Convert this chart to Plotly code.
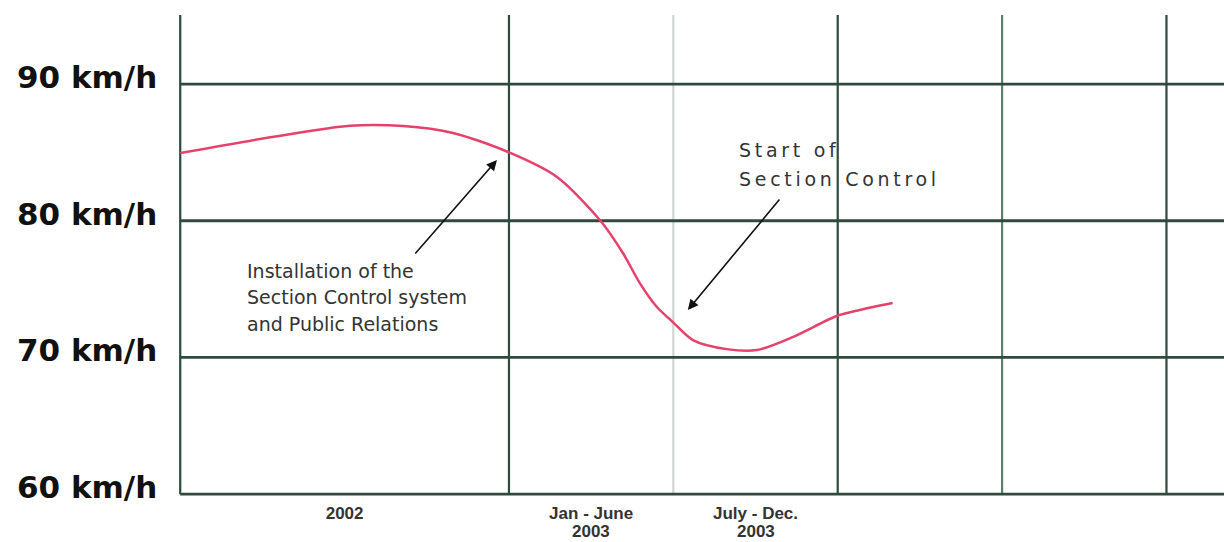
import plotly.graph_objects as go

# Average speed through the controlled section, one point per sampled position
# along the time axis (0 = start of 2002, each unit = half a year)
period_pos = [0.0, 0.547, 1.033, 1.356, 1.660, 1.994, 2.292, 2.553, 2.693,
              2.796, 2.900, 2.997, 3.119, 3.325, 3.508, 3.726, 3.994, 4.134, 4.334]
speed_kmh = [84.95, 86.1, 86.95, 86.93, 86.42, 85.03, 83.2, 80.05, 77.64,
             75.44, 73.69, 72.59, 71.27, 70.61, 70.54, 71.49, 73.03, 73.47, 73.98]

# Period labels on the time axis (first row as tick labels, year row below)
period_tick_pos = [1, 2.5, 3.5]
period_tick_text = ["2002", "Jan - June", "July - Dec."]
period_year_text = ["", "2003", "2003"]

# Speed levels on the vertical axis
speed_levels = [60, 70, 80, 90]
speed_labels = ["60 km/h", "70 km/h", "80 km/h", "90 km/h"]

# Vertical dividers: (position, colour)
dividers = [(0, "#2f4a3d"), (2, "#2f4a3d"), (3, "#cfd5d1"),
            (4, "#2f4a3d"), (5, "#5b7f6c"), (6, "#2f4a3d")]

# Callout texts, one entry per line
install_lines = ["Installation of the", "Section Control system", "and Public Relations"]
start_lines = ["Start of", "Section Control"]

X_MAX = 6.35
Y_MIN, Y_MAX = 59.5, 95.05
GRID = "#2f4a3d"
TICK_FONT = dict(family="Liberation Sans", size=17, color="#333333", weight="bold")

fig = go.Figure()

fig.add_trace(go.Scatter(
    x=period_pos, y=speed_kmh, mode="lines",
    line=dict(color="#e6416b", width=2.5, shape="spline", smoothing=0.8),
    hoverinfo="skip", showlegend=False,
))

shapes = []
for pos, col in dividers:
    shapes.append(dict(type="line", xref="x", yref="y", x0=pos, x1=pos,
                       y0=60, y1=Y_MAX, layer="below",
                       line=dict(color=col, width=2.2)))
for lvl in speed_levels:
    shapes.append(dict(type="line", xref="x", yref="y", x0=0, x1=X_MAX,
                       y0=lvl, y1=lvl, layer="below",
                       line=dict(color=GRID, width=2.8)))

annotations = []
for lvl, lab in zip(speed_levels, speed_labels):
    annotations.append(dict(
        x=0, y=lvl, xref="x", yref="y", text=lab, showarrow=False,
        xanchor="right", yanchor="middle", xshift=-21, yshift=7,
        font=dict(family="DejaVu Sans", size=31, color="#111111", weight="bold"),
    ))

# Year row under the period labels
for pos, yr in zip(period_tick_pos, period_year_text):
    if yr:
        annotations.append(dict(
            x=pos, y=0, xref="x", yref="paper", text=yr, showarrow=False,
            xanchor="center", yanchor="middle", yshift=-30, font=TICK_FONT,
        ))

# Arrows pointing to events on the curve
annotations.append(dict(
    x=1.927, y=84.44, ax=1.422, ay=77.49, xref="x", yref="y",
    axref="x", ayref="y", text="", showarrow=True,
    arrowhead=2, arrowsize=1.3, arrowwidth=1.6, arrowcolor="#111111",
))
annotations.append(dict(
    x=3.088, y=73.47, ax=3.653, ay=81.66, xref="x", yref="y",
    axref="x", ayref="y", text="", showarrow=True,
    arrowhead=2, arrowsize=1.3, arrowwidth=1.6, arrowcolor="#111111",
))

# Installation callout (line pitch about 2 km/h)
for i, line in enumerate(install_lines):
    annotations.append(dict(
        x=0.395, y=76.35 - 1.95 * i, xref="x", yref="y",
        xanchor="left", yanchor="middle", showarrow=False, text=line,
        font=dict(family="DejaVu Sans", size=19, color="#333333"),
    ))

# Start-of-control callout, letter-spaced
for i, line in enumerate(start_lines):
    annotations.append(dict(
        x=3.39, y=85.2 - 2.18 * i, xref="x", yref="y",
        xanchor="left", yanchor="middle", showarrow=False,
        text='<span style="letter-spacing:3.7px">' + line + "</span>",
        font=dict(family="DejaVu Sans", size=19, color="#333333"),
    ))

fig.update_layout(
    width=1224, height=542,
    margin=dict(l=172, r=0, t=15, b=41, autoexpand=False),
    paper_bgcolor="white", plot_bgcolor="white",
    shapes=shapes, annotations=annotations,
    xaxis=dict(range=[-0.05, X_MAX], showgrid=False, zeroline=False,
               showline=False, tickmode="array", tickvals=period_tick_pos,
               ticktext=period_tick_text, ticks="", ticklabelstandoff=0,
               automargin=False, tickfont=TICK_FONT),
    yaxis=dict(range=[Y_MIN, Y_MAX], showgrid=False, zeroline=False,
               showline=False, showticklabels=False, ticks="",
               automargin=False),
)

fig.write_html("out.html")
